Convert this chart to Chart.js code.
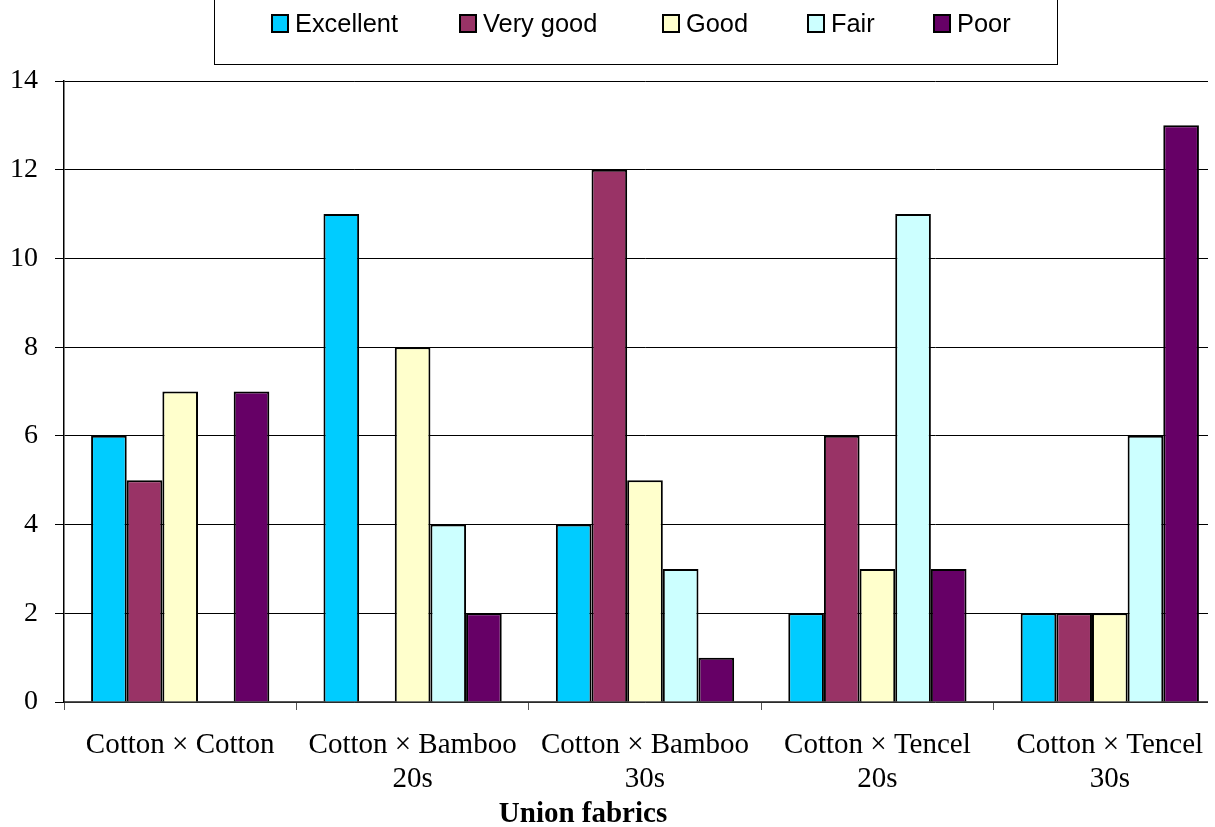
<!DOCTYPE html>
<html>
<head>
<meta charset="utf-8">
<script src="https://cdn.jsdelivr.net/npm/chart.js@4"></script>
<style>
html,body{margin:0;padding:0;background:#fff;overflow:hidden;width:1215px;height:827px;}
#wrap{position:relative;width:1235px;height:827px;}
</style>
</head>
<body>
<div id="wrap"><canvas id="c" width="1235" height="827"></canvas></div>
<script>
const categories = [
  ["Cotton \u00d7 Cotton"],
  ["Cotton \u00d7 Bamboo", "20s"],
  ["Cotton \u00d7 Bamboo", "30s"],
  ["Cotton \u00d7 Tencel", "20s"],
  ["Cotton \u00d7 Tencel", "30s"]
];
const seriesNames = ["Excellent", "Very good", "Good", "Fair", "Poor"];
const excellent = [6, 11, 4, 2, 2];
const veryGood  = [5, 0, 12, 6, 2];
const good      = [7, 8, 5, 3, 2];
const fair      = [0, 4, 3, 11, 6];
const poor      = [7, 2, 1, 3, 13];
const yTicks = [0, 2, 4, 6, 8, 10, 12, 14];
const xTitle = "Union fabrics";

const colors = ["#00CCFF", "#993366", "#FFFFCC", "#CCFFFF", "#660066"];
const values = [excellent, veryGood, good, fair, poor];

const datasets = seriesNames.map((n, i) => ({
  label: n,
  data: values[i],
  backgroundColor: colors[i],
  borderColor: "#000",
  borderWidth: 2,
  borderSkipped: "start",
  barPercentage: 1.0,
  categoryPercentage: 0.767
}));

const serif = "'Liberation Serif', 'Times New Roman', serif";

const decor = {
  id: "decor",
  afterDraw(chart) {
    const ctx = chart.ctx;
    ctx.save();
    // crop to right edge of original plot
    ctx.fillStyle = "#fff";
    ctx.fillRect(1208, 0, 100, 827);
    // legend box
    ctx.strokeStyle = "#000";
    ctx.lineWidth = 1;
    ctx.strokeRect(214.5, -10, 843, 74.5);
    // legend items
    const swatchX = [271, 459, 662, 807, 933];
    ctx.font = "25px 'Liberation Sans', Arial, sans-serif";
    const scale = 103 / ctx.measureText("Excellent").width;
    chart.data.datasets.forEach((ds, i) => {
      const x = swatchX[i];
      ctx.fillStyle = ds.backgroundColor;
      ctx.fillRect(x, 14, 18, 19);
      ctx.lineWidth = 2;
      ctx.strokeStyle = "#000";
      ctx.strokeRect(x + 1, 15, 16, 17);
      ctx.save();
      ctx.translate(x + 24, 32);
      ctx.scale(scale, 1);
      ctx.fillStyle = "#000";
      ctx.textBaseline = "alphabetic";
      ctx.textAlign = "left";
      ctx.fillText(ds.label, 0, 0);
      ctx.restore();
    });
    // axis title
    ctx.font = "bold 29px " + serif;
    ctx.fillStyle = "#000";
    ctx.textAlign = "center";
    ctx.textBaseline = "alphabetic";
    ctx.fillText(xTitle, 583, 822);
    ctx.restore();
  }
};

new Chart(document.getElementById("c"), {
  type: "bar",
  data: { labels: categories, datasets },
  options: {
    responsive: false,
    animation: false,
    events: [],
    layout: { padding: { top: 81, right: 9, bottom: 0, left: 0 } },
    plugins: { legend: { display: false }, tooltip: { enabled: false }, title: { display: false } },
    scales: {
      x: {
        offset: true,
        grid: { display: true, drawOnChartArea: false, drawTicks: true, tickLength: 8, color: "#555", offset: true },
        border: { display: true, color: "#555", width: 1.5 },
        ticks: { color: "#000", font: { family: serif, size: 29, lineHeight: 1.17 }, padding: 18, maxRotation: 0, autoSkip: false },
        afterFit(s) { s.height = 125; }
      },
      y: {
        min: 0, max: 14,
        afterBuildTicks(s) { s.ticks = yTicks.map(v => ({ value: v })); },
        grid: { color: "#000", lineWidth: 1, tickLength: 9, drawTicks: true },
        border: { display: true, color: "#000", width: 1.5 },
        ticks: { color: "#000", font: { family: serif, size: 28 }, padding: 17 },
        afterFit(s) { s.width = 64; }
      }
    }
  },
  plugins: [decor]
});
</script>
</body>
</html>
